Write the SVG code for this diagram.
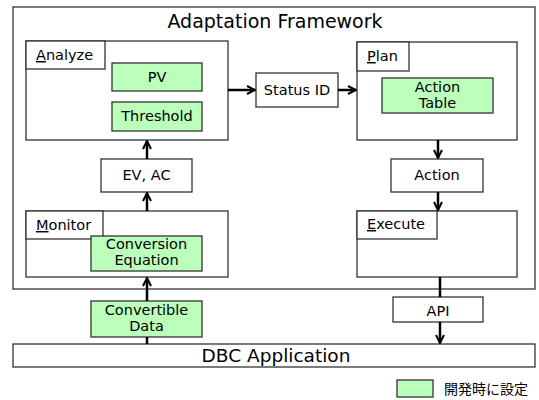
<svg xmlns="http://www.w3.org/2000/svg" width="539" height="400" viewBox="0 0 539 400">
<defs>
<marker id="ah" viewBox="0 0 10 10" refX="9" refY="5" markerWidth="10" markerHeight="10" markerUnits="userSpaceOnUse" orient="auto">
<path d="M1,1 L9,5 L1,9" fill="none" stroke="#000" stroke-width="2"/>
</marker>
<style>
.box{fill:#fff;stroke:#333;stroke-width:1.3}
.grn{fill:#bbffbb;stroke:#333;stroke-width:1.3}
.t{font-family:"DejaVu Sans",Verdana,sans-serif;font-size:14.5px;fill:#000}
.c{text-anchor:middle}
.big{font-family:"DejaVu Sans",Verdana,sans-serif;font-size:19px;fill:#000;text-anchor:middle}
.cn{stroke:#000;stroke-width:2.5;fill:none}
.jp{font-family:"Noto Sans CJK JP","DejaVu Sans",sans-serif;font-size:14px;fill:#000}
</style>
</defs>
<rect width="539" height="400" fill="#fff"/>
<g id="framework">
<rect class="box" x="13" y="7" width="522" height="282"/>
<text class="big" x="275" y="28">Adaptation Framework</text>
</g>
<g id="analyze">
<rect class="box" x="26" y="41" width="202" height="99"/>
<rect class="box" x="26" y="41" width="79" height="28"/>
<text class="t" x="36" y="60"><tspan text-decoration="underline">A</tspan>nalyze</text>
</g>
<g id="pv">
<rect class="grn" x="112" y="63" width="90" height="28"/>
<text class="t c" x="157" y="82">PV</text>
</g>
<g id="threshold">
<rect class="grn" x="112" y="102" width="90" height="29"/>
<text class="t c" x="157" y="121">Threshold</text>
</g>
<g id="evac">
<rect class="box" x="101" y="159" width="91" height="33"/>
<text class="t c" x="146.5" y="180">EV, AC</text>
</g>
<g id="monitor">
<rect class="box" x="26" y="211" width="202" height="66"/>
<rect class="box" x="26" y="211" width="77" height="28"/>
<text class="t" x="36" y="230"><tspan text-decoration="underline">M</tspan>onitor</text>
</g>
<g id="conversion">
<rect class="grn" x="91" y="236" width="111" height="35"/>
<text class="t c" x="146.5" y="249">Conversion</text>
<text class="t c" x="146.5" y="265">Equation</text>
</g>
<g id="convertible">
<rect class="grn" x="91" y="301" width="111" height="36"/>
<text class="t c" x="146.5" y="315">Convertible</text>
<text class="t c" x="146.5" y="331">Data</text>
</g>
<g id="statusid">
<rect class="box" x="256" y="73" width="82" height="34"/>
<text class="t c" x="297" y="95">Status ID</text>
</g>
<g id="plan">
<rect class="box" x="357" y="42" width="160" height="98"/>
<rect class="box" x="357" y="42" width="52" height="29"/>
<text class="t" x="367" y="61"><tspan text-decoration="underline">P</tspan>lan</text>
</g>
<g id="actiontable">
<rect class="grn" x="382" y="78" width="111" height="35"/>
<text class="t c" x="437.5" y="92">Action</text>
<text class="t c" x="437.5" y="108">Table</text>
</g>
<g id="action">
<rect class="box" x="391" y="159" width="92" height="33"/>
<text class="t c" x="437" y="180">Action</text>
</g>
<g id="execute">
<rect class="box" x="357" y="211" width="160" height="66"/>
<rect class="box" x="357" y="211" width="80" height="28"/>
<text class="t" x="367" y="229"><tspan text-decoration="underline">E</tspan>xecute</text>
</g>
<g id="api">
<rect class="box" x="393" y="297" width="90" height="25"/>
<text class="t c" x="438" y="316">API</text>
</g>
<g id="dbc">
<rect class="box" x="13" y="344" width="522" height="23"/>
<text class="big" x="276" y="362" style="font-size:18.5px">DBC Application</text>
</g>
<g id="legend">
<rect class="grn" x="397" y="380" width="36" height="17"/>
<text class="jp" x="444" y="394">開発時に設定</text>
</g>
<g id="connectors">
<line class="cn" x1="147" y1="159" x2="147" y2="141" marker-end="url(#ah)"/>
<line class="cn" x1="147" y1="211" x2="147" y2="193" marker-end="url(#ah)"/>
<line class="cn" x1="147" y1="301" x2="147" y2="278" marker-end="url(#ah)"/>
<line class="cn" x1="147" y1="344" x2="147" y2="337"/>
<line class="cn" x1="228" y1="90" x2="255" y2="90" marker-end="url(#ah)"/>
<line class="cn" x1="338" y1="90" x2="356" y2="90" marker-end="url(#ah)"/>
<line class="cn" x1="438" y1="140" x2="438" y2="158" marker-end="url(#ah)"/>
<line class="cn" x1="438" y1="192" x2="438" y2="210" marker-end="url(#ah)"/>
<line class="cn" x1="440" y1="277" x2="440" y2="297"/>
<line class="cn" x1="440" y1="322" x2="440" y2="343" marker-end="url(#ah)"/>
</g>
</svg>
